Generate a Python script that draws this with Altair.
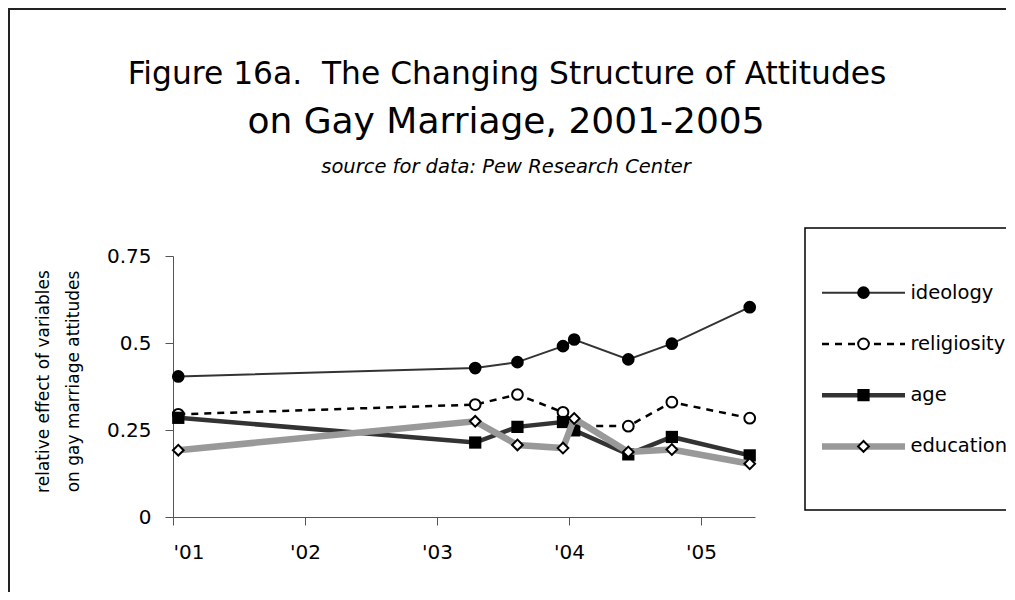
import altair as alt
import pandas as pd

# ---- data ----
series_names = ["ideology", "religiosity", "age", "education"]
x_years = [2001.04, 2003.29, 2003.61, 2003.955, 2004.04, 2004.45, 2004.78, 2005.37]
ideology = [0.404, 0.428, 0.445, 0.491, 0.510, 0.453, 0.498, 0.603]
religiosity = [0.295, 0.323, 0.352, 0.301, 0.262, 0.261, 0.330, 0.284]
age = [0.285, 0.214, 0.259, 0.273, 0.249, 0.180, 0.230, 0.177]
education = [0.192, 0.275, 0.207, 0.198, 0.283, 0.187, 0.194, 0.153]
x_tick_values = [2001, 2002, 2003, 2004, 2005]
y_tick_values = [0, 0.25, 0.5, 0.75]
title_lines = ["Figure 16a.\u00a0 The Changing Structure of Attitudes", "on Gay Marriage, 2001-2005"]
subtitle_text = "source for data: Pew Research Center"
y_title = ["relative effect of variables", "on gay marriage attitudes"]

values_by_series = {
    "ideology": ideology,
    "religiosity": religiosity,
    "age": age,
    "education": education,
}

rows = []
for s in series_names:
    for xv, yv in zip(x_years, values_by_series[s]):
        rows.append({"series": s, "year": xv, "value": yv})
df = pd.DataFrame(rows)

FONT = "DejaVu Sans"
W, H = 582, 261

styles = {
    "ideology": dict(line=dict(color="#333333", strokeWidth=2),
                     point=dict(shape="circle", filled=True, color="#000000", size=160)),
    "religiosity": dict(line=dict(color="#000000", strokeWidth=2.5, strokeDash=[7, 6]),
                        point=dict(shape="circle", filled=True, fill="#ffffff", stroke="#000000",
                                   strokeWidth=2, size=115)),
    "age": dict(line=dict(color="#333333", strokeWidth=4.5),
                point=dict(shape="square", filled=True, color="#000000", size=150)),
    "education": dict(line=dict(color="#999999", strokeWidth=6.5),
                      point=dict(shape="diamond", filled=True, fill="#ffffff", stroke="#000000",
                                 strokeWidth=2, size=115)),
}

xscale = alt.Scale(domain=[2001, 2005.41], nice=False, zero=False)
yscale = alt.Scale(domain=[0, 0.75], nice=False)

x_axis = alt.Axis(values=x_tick_values, labelExpr="\"'0\" + (datum.value - 2000)",
                  title=None, grid=False, tickSize=8, labelPadding=17,
                  labelFontSize=20, labelFont=FONT, labelColor="#000000",
                  domainColor="#555555", tickColor="#555555")
y_axis = alt.Axis(values=y_tick_values,
                  labelExpr="datum.value == 0 ? '0' : toString(datum.value)",
                  grid=False, tickSize=8,
                  labelPadding=14, labelFontSize=20, labelFont=FONT, labelColor="#000000",
                  domainColor="#555555", tickColor="#555555",
                  title=y_title,
                  titleFont=FONT, titleFontSize=17, titleFontWeight="normal",
                  titleColor="#000000", titleAngle=-90, titleX=-130, titleY=125,
                  titleAlign="center", titleBaseline="middle", titleLineHeight=30)

data_layers = []
for s in series_names:
    sub = df[df.series == s]
    base = alt.Chart(sub)
    enc_x = alt.X("year:Q", scale=xscale, axis=x_axis)
    enc_y = alt.Y("value:Q", scale=yscale, axis=y_axis)
    line = base.mark_line(**styles[s]["line"]).encode(x=enc_x, y=enc_y)
    pts = base.mark_point(opacity=1, **styles[s]["point"]).encode(x=enc_x, y=enc_y)
    data_layers += [line, pts]

main = alt.layer(*data_layers)

# ---- custom legend (line + marker samples) ----
leg_rows = []
for s in series_names:
    leg_rows.append({"lseries": s, "lx0": 0.0, "lx1": 2.0, "lxm": 1.0, "lxt": 2.13})
leg_df = pd.DataFrame(leg_rows)

lxs = alt.Scale(domain=[0, 2], range=[649, 732])
lys = alt.Scale(domain=series_names, range=[11, 216], padding=0)

one = leg_df.head(1)
frame_top = alt.Chart(one).mark_rule(color="#222222", strokeWidth=2).encode(
    x=alt.value(-170), x2=alt.value(900), y=alt.value(-247))
frame_left = alt.Chart(one).mark_rule(color="#222222", strokeWidth=2).encode(
    x=alt.value(-164), y=alt.value(-260), y2=alt.value(400))
leg_box = alt.Chart(one).mark_rect(fill="#ffffff", stroke="#000000", strokeWidth=1.5).encode(
    x=alt.value(632), x2=alt.value(900), y=alt.value(-28), y2=alt.value(254))

title_df = pd.DataFrame({"t": title_lines + [subtitle_text], "k": [0, 1, 2]})
title1 = alt.Chart(title_df[title_df.k == 0]).mark_text(
    font=FONT, fontSize=31.3, align="center", baseline="middle", color="#000000").encode(
    x=alt.value(334), y=alt.value(-181), text="t:N")
title2 = alt.Chart(title_df[title_df.k == 1]).mark_text(
    font=FONT, fontSize=36, align="center", baseline="middle", color="#000000").encode(
    x=alt.value(333), y=alt.value(-134), text="t:N")
subt = alt.Chart(title_df[title_df.k == 2]).mark_text(
    font=FONT, fontSize=19.5, fontStyle="italic", align="center", baseline="middle",
    color="#000000").encode(x=alt.value(333), y=alt.value(-89), text="t:N")

leg_layers = [frame_top, frame_left, leg_box, title1, title2, subt]
for s in series_names:
    sub = leg_df[leg_df.lseries == s]
    b = alt.Chart(sub)
    ls = styles[s]["line"]
    leg_layers.append(b.mark_rule(**ls).encode(
        x=alt.X("lx0:Q", scale=lxs, axis=None), x2="lx1:Q",
        y=alt.Y("lseries:O", scale=lys, axis=None)))
    leg_layers.append(b.mark_point(opacity=1, **styles[s]["point"]).encode(
        x=alt.X("lxm:Q", scale=lxs, axis=None),
        y=alt.Y("lseries:O", scale=lys, axis=None)))
    leg_layers.append(b.mark_text(align="left", baseline="middle", font=FONT, fontSize=19.5,
                                  color="#000000").encode(
        x=alt.X("lxt:Q", scale=lxs, axis=None),
        y=alt.Y("lseries:O", scale=lys, axis=None),
        text="lseries:N"))

legend = alt.layer(*leg_layers)

chart = alt.layer(legend, main).resolve_scale(x="independent", y="independent").properties(
    width=W, height=H,
    autosize=alt.AutoSizeParams(type="none"),
    padding={"left": 165, "top": 248, "right": 251, "bottom": 75},
).configure(background="#ffffff", view=alt.ViewConfig(stroke="transparent"))

chart.save("out.html", embed_options={"renderer": "svg", "actions": False})
